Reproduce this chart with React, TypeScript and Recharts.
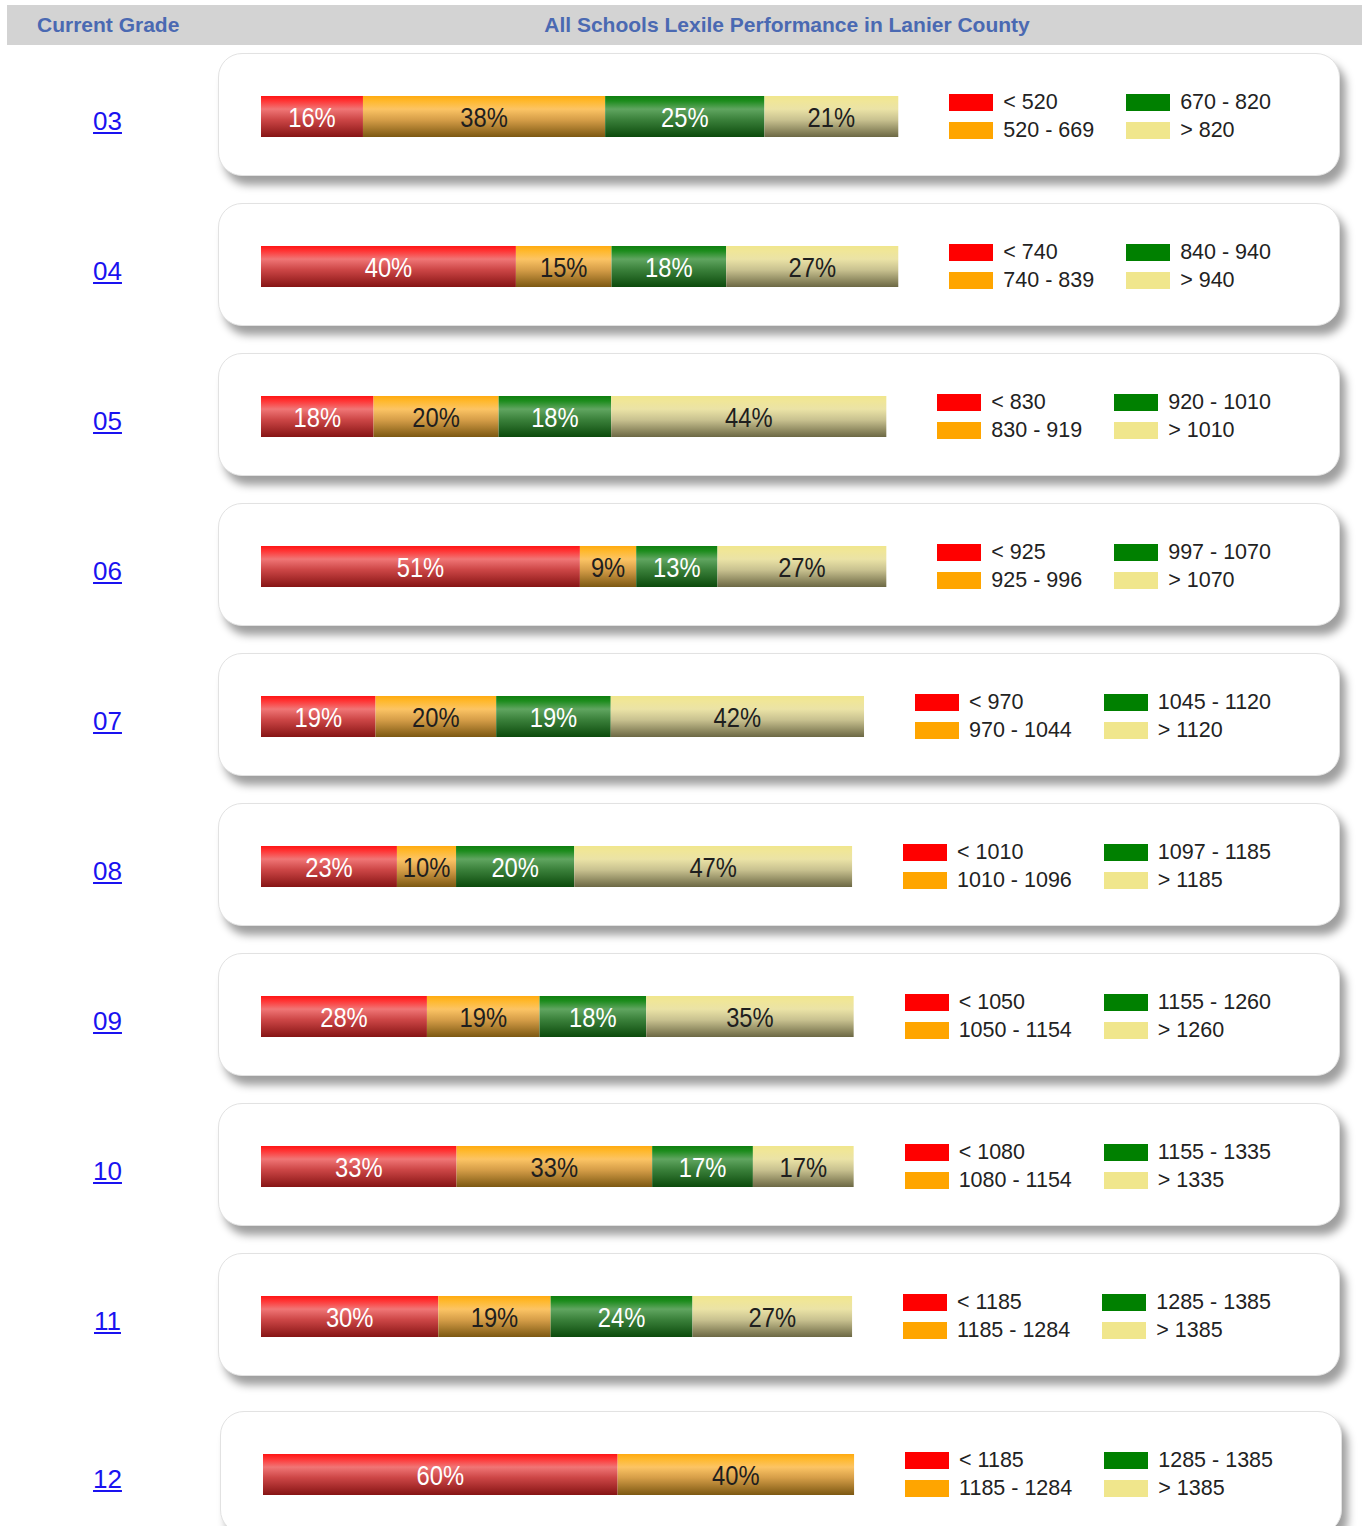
import { BarChart, Bar, XAxis, YAxis, Legend, LabelList } from 'recharts';

const grades = ['03', '04', '05', '06', '07', '08', '09', '10', '11', '12'];

// percent of students in each Lexile band
const below = [16, 40, 18, 51, 19, 23, 28, 33, 30, 60];
const approaching = [38, 15, 20, 9, 20, 10, 19, 33, 19, 40];
const meets = [25, 18, 18, 13, 19, 20, 18, 17, 24, null];
const exceeds = [21, 27, 44, 27, 42, 47, 35, 17, 27, null];

// Lexile band labels per grade
const belowBand = ['< 520', '< 740', '< 830', '< 925', '< 970', '< 1010', '< 1050', '< 1080', '< 1185', '< 1185'];
const approachingBand = ['520 - 669', '740 - 839', '830 - 919', '925 - 996', '970 - 1044', '1010 - 1096', '1050 - 1154', '1080 - 1154', '1185 - 1284', '1185 - 1284'];
const meetsBand = ['670 - 820', '840 - 940', '920 - 1010', '997 - 1070', '1045 - 1120', '1097 - 1185', '1155 - 1260', '1155 - 1335', '1285 - 1385', '1285 - 1385'];
const exceedsBand = ['> 820', '> 940', '> 1010', '> 1070', '> 1120', '> 1185', '> 1260', '> 1335', '> 1385', '> 1385'];

const series = [
  { key: 'below', color: '#ff0000', text: '#ffffff', stops: ['#ff1414', '#ff3535', '#f07676', '#cc4646', '#861414'] },
  { key: 'approaching', color: '#ffa500', text: '#1e1e1e', stops: ['#ffaa10', '#ffb82c', '#fcc464', '#d69e48', '#7c5812'] },
  { key: 'meets', color: '#008000', text: '#ffffff', stops: ['#0f7f0f', '#1d8c1d', '#60a560', '#3a803a', '#0c4a0c'] },
  { key: 'exceeds', color: '#f0e68c', text: '#1e1e1e', stops: ['#f0e68c', '#f0e698', '#ebe3a6', '#c9c290', '#6c6844'] },
];
const offsets = ['0%', '12%', '32%', '58%', '100%'];
const order = series.map((s) => s.key);
const legendColor: Record<string, string> = Object.fromEntries(series.map((s) => [s.key, s.color]));

const BLUE = '#4a69b2';
const LABEL_SIZE = 27;

// rough Arial advance widths, used to squeeze labels like the condensed original
const advance = (t: string) =>
  t.split('').reduce((w, ch) => w + (ch === '%' ? 0.889 : 0.556), 0) * LABEL_SIZE;

function GradeLegend({ payload }: any) {
  const items = [...(payload || [])].sort((a: any, b: any) => order.indexOf(a.dataKey) - order.indexOf(b.dataKey));
  return (
    <div
      style={{
        display: 'grid',
        gridTemplateRows: 'repeat(2, 28px)',
        gridAutoFlow: 'column',
        columnGap: 32,
        paddingLeft: 51,
        fontSize: 21.5,
        color: '#222',
        fontFamily: "'Liberation Sans', Arial, sans-serif",
      }}
    >
      {items.map((p: any) => (
        <div key={p.dataKey} style={{ display: 'flex', alignItems: 'center', whiteSpace: 'nowrap' }}>
          <span style={{ display: 'inline-block', width: 44, height: 17, background: legendColor[p.dataKey], marginRight: 10 }} />
          {p.value}
        </div>
      ))}
    </div>
  );
}

const makeLabel = (fill: string) => (props: any) => {
  const { x, y, width, height, value } = props;
  if (!value) return null;
  const t = `${value}%`;
  return (
    <text
      x={Number(x) + Number(width) / 2}
      y={Number(y) + Number(height) / 2 + 1}
      textAnchor="middle"
      dominantBaseline="central"
      fill={fill}
      fontSize={LABEL_SIZE}
      textLength={advance(t) * 0.88}
      lengthAdjust="spacingAndGlyphs"
      fontFamily="'Liberation Sans', Arial, sans-serif"
    >
      {t}
    </text>
  );
};

function GradeRow({ i }: { i: number }) {
  const data = [
    { grade: grades[i], below: below[i], approaching: approaching[i], meets: meets[i], exceeds: exceeds[i] },
  ];
  const names = [belowBand[i], approachingBand[i], meetsBand[i], exceedsBand[i]];
  const top = 53 + i * 150 + (i === 9 ? 8 : 0);
  const left = i === 9 ? 220 : 218;

  return (
    <>
      <div
        style={{
          position: 'absolute',
          left: 0,
          width: 215,
          top: top + 53,
          lineHeight: '30px',
          textAlign: 'center',
          fontSize: 26,
          color: '#1a12f0',
          textDecoration: 'underline',
        }}
      >
        {grades[i]}
      </div>
      <div
        style={{
          position: 'absolute',
          left,
          top,
          width: 1120,
          height: 121,
          borderRadius: 24,
          background: '#fff',
          border: '1px solid #e2e2e2',
          boxShadow: '6px 9px 9px rgba(0,0,0,0.38)',
        }}
      >
        <div style={{ position: 'absolute', left: 42, top: 0 }}>
          <BarChart
            width={1010}
            height={124}
            layout="vertical"
            data={data}
            margin={{ top: 42, bottom: 41, left: 0, right: 0 }}
            barCategoryGap={0}
          >
            <defs>
              {series.map((s) => (
                <linearGradient key={s.key} id={`g-${s.key}-${i}`} x1="0" y1="0" x2="0" y2="1">
                  {s.stops.map((c, k) => (
                    <stop key={k} offset={offsets[k]} stopColor={c} />
                  ))}
                </linearGradient>
              ))}
            </defs>
            <XAxis type="number" domain={[0, 100]} hide />
            <YAxis type="category" dataKey="grade" hide />
            <Legend layout="vertical" align="right" verticalAlign="middle" content={<GradeLegend />} />
            {series.map((s, k) => (
              <Bar
                key={s.key}
                dataKey={s.key}
                name={names[k]}
                stackId="a"
                fill={`url(#g-${s.key}-${i})`}
                isAnimationActive={false}
              >
                <LabelList dataKey={s.key} content={makeLabel(s.text)} />
              </Bar>
            ))}
          </BarChart>
        </div>
      </div>
    </>
  );
}

export default function App() {
  return (
    <div
      style={{
        position: 'absolute',
        left: 0,
        top: 0,
        width: 1362,
        height: 1526,
        overflow: 'hidden',
        background: '#fff',
        fontFamily: "'Liberation Sans', Arial, sans-serif",
      }}
    >
      <div style={{ position: 'absolute', left: 7, top: 5, width: 1355, height: 40, background: '#d3d3d3' }} />
      <div style={{ position: 'absolute', left: 37, top: 5, lineHeight: '40px', fontSize: 21, fontWeight: 'bold', color: BLUE }}>
        Current Grade
      </div>
      <div
        style={{
          position: 'absolute',
          left: 218,
          width: 1138,
          top: 5,
          lineHeight: '40px',
          textAlign: 'center',
          fontSize: 21,
          fontWeight: 'bold',
          color: BLUE,
        }}
      >
        All Schools Lexile Performance in Lanier County
      </div>
      {grades.map((g, i) => (
        <GradeRow key={g} i={i} />
      ))}
    </div>
  );
}
